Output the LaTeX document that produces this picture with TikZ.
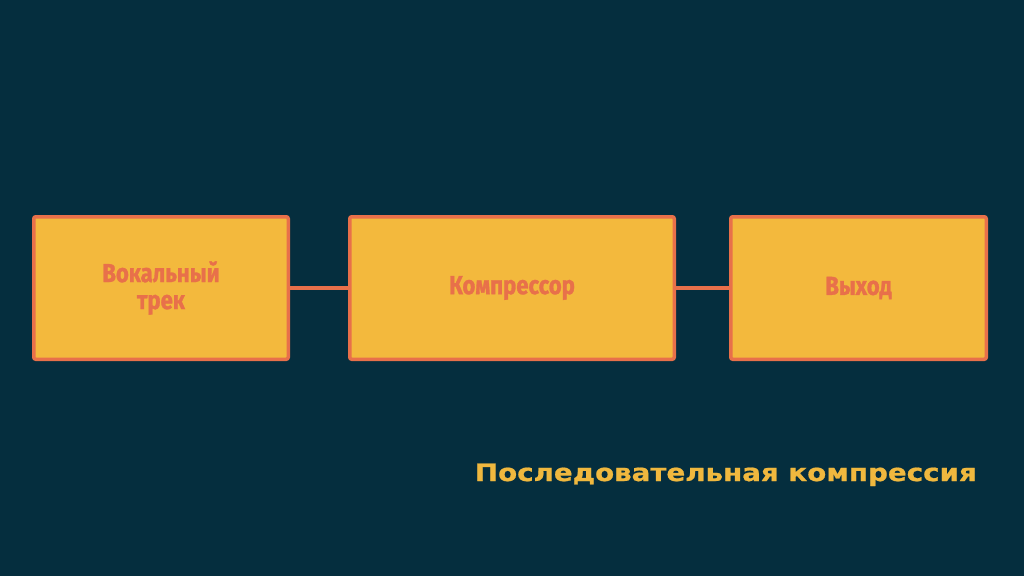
\documentclass[tikz,border=0pt]{standalone}
\usepackage{fontspec}
\setmainfont{Fira Sans}
\newfontfamily\condfont[FakeStretch=0.85,BoldFeatures={FakeBold=1.2}]{Fira Sans}
\newfontfamily\widefont[FakeStretch=1.155,BoldFeatures={FakeBold=0.8}]{DejaVu Sans}
\definecolor{bg}{HTML}{052E3E}
\definecolor{boxfill}{HTML}{F3B93D}
\definecolor{boxline}{HTML}{E8704A}
\definecolor{captioncol}{HTML}{F0B83E}
\tikzset{
  stagebox/.style={draw=boxline, fill=boxfill, line width=3.5pt, rounded corners=2pt,
    text=boxline, font=\condfont\bfseries\fontsize{26}{27}\selectfont, align=center, anchor=north west},
  link/.style={draw=boxline, line width=3.5pt}
}
\begin{document}
\begin{tikzpicture}[x=1pt,y=-1pt]
\fill[bg] (0,0) rectangle (1024,576);
\useasboundingbox (0,0) rectangle (1024,576);
\node[stagebox, minimum width=254.5pt, minimum height=142.5pt] (a) at (32,215) {Вокальный\\трек};
\node[stagebox, minimum width=324.5pt, minimum height=142.5pt] (b) at (348,215) {Компрессор};
\node[stagebox, minimum width=255.5pt, minimum height=142.5pt] (c) at (729,215) {Выход};
\draw[link] (a.east) -- (b.west);
\draw[link] (b.east) -- (c.west);
\node[anchor=base east, text=captioncol, font=\widefont\bfseries\fontsize{24}{28}\selectfont, inner sep=0pt] (cap) at (977,481) {Последовательная компрессия};
\end{tikzpicture}
\end{document}
